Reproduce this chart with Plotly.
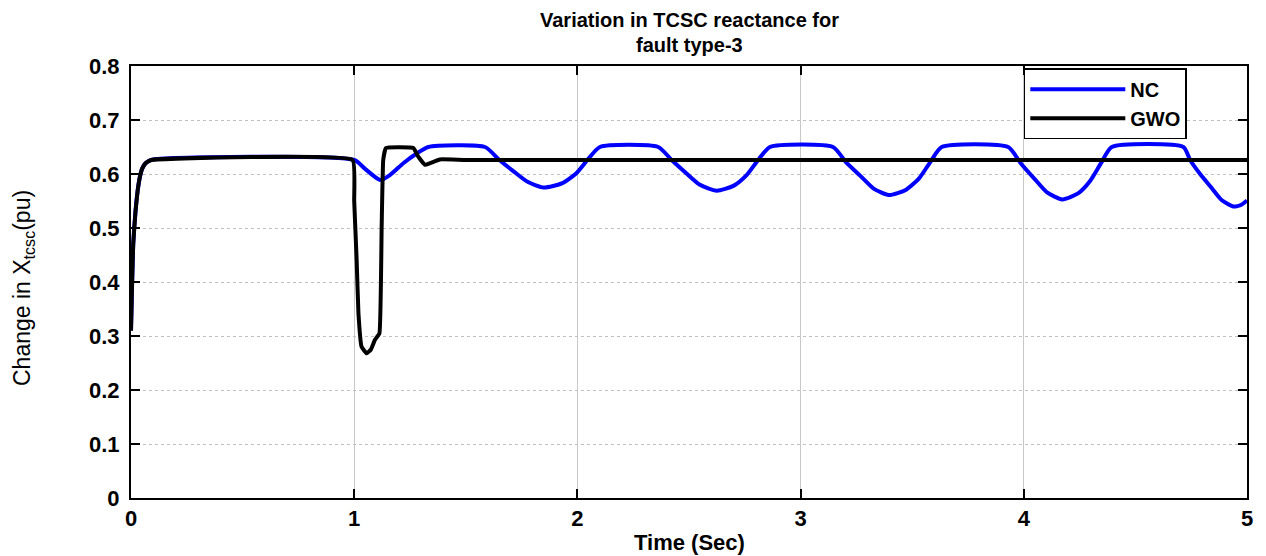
import plotly.graph_objects as go

# ---- data ----
gwo_t = [0.0, 0.005, 0.01, 0.02, 0.03, 0.04, 0.05, 0.065, 0.09, 0.993,
         1.0, 1.011, 1.019, 1.033, 1.056, 1.075, 1.093, 1.113, 1.123, 1.130,
         1.142, 1.265, 1.287, 1.317, 1.340, 1.384, 1.5, 5.0]
gwo_v = [0.31, 0.40, 0.47, 0.53, 0.57, 0.595, 0.61, 0.62, 0.626, 0.626,
         0.55, 0.44, 0.342, 0.28, 0.268, 0.275, 0.293, 0.305, 0.502, 0.626,
         0.648, 0.648, 0.632, 0.617, 0.620, 0.627, 0.626, 0.626]

nc_t = [0.0, 0.005, 0.01, 0.02, 0.03, 0.04, 0.05, 0.065, 0.09, 1.0,
        1.05, 1.116, 1.16, 1.22, 1.28, 1.332, 1.586,
        1.648, 1.717, 1.779, 1.849, 1.933, 1.994, 2.047, 2.101, 2.362,
        2.422, 2.489, 2.549, 2.624, 2.699, 2.758, 2.810, 2.863, 3.145,
        3.203, 3.269, 3.327, 3.395, 3.473, 3.531, 3.581, 3.632, 3.930,
        3.986, 4.048, 4.104, 4.173, 4.243, 4.297, 4.346, 4.394, 4.715,
        4.745, 4.790, 4.840, 4.886, 4.939, 4.975, 5.0]
nc_v = [0.31, 0.40, 0.47, 0.53, 0.57, 0.595, 0.61, 0.62, 0.626, 0.626,
        0.609, 0.589, 0.598, 0.620, 0.638, 0.650, 0.650,
        0.627, 0.604, 0.585, 0.575, 0.583, 0.601, 0.627, 0.650, 0.650,
        0.626, 0.601, 0.580, 0.569, 0.578, 0.598, 0.626, 0.650, 0.650,
        0.622, 0.596, 0.573, 0.561, 0.571, 0.592, 0.622, 0.650, 0.650,
        0.620, 0.591, 0.566, 0.553, 0.564, 0.587, 0.620, 0.650, 0.650,
        0.626, 0.600, 0.575, 0.552, 0.540, 0.543, 0.551]

x_ticks = [0, 1, 2, 3, 4, 5]
y_ticks = [0, 0.1, 0.2, 0.3, 0.4, 0.5, 0.6, 0.7, 0.8]
y_tick_labels = ["0", "0.1", "0.2", "0.3", "0.4", "0.5", "0.6", "0.7", "0.8"]

FONT = "Liberation Sans, Arial, Helvetica, sans-serif"

fig = go.Figure()
fig.add_trace(go.Scatter(x=nc_t, y=nc_v, mode="lines", name="NC",
                         line=dict(color="#0000ff", width=4, shape="spline", smoothing=0.6)))
fig.add_trace(go.Scatter(x=gwo_t, y=gwo_v, mode="lines", name="GWO",
                         line=dict(color="#000000", width=4, shape="spline", smoothing=0.3)))

axis_common = dict(showline=True, linecolor="black", linewidth=2, mirror="ticks",
                   ticks="inside", ticklen=9, tickwidth=2, tickcolor="black",
                   zeroline=False, showgrid=True, gridwidth=1,
                   tickfont=dict(family=FONT, size=22, color="black", weight="bold"))

fig.update_xaxes(range=[0, 5], tickvals=x_ticks, ticktext=[str(v) for v in x_ticks],
                 gridcolor="#c8c8c8", griddash="solid", ticklabelstandoff=0, **axis_common)
fig.update_yaxes(range=[0, 0.8], tickvals=y_ticks, ticktext=y_tick_labels,
                 gridcolor="#c0c0c0", griddash="dot", ticklabelstandoff=5, **axis_common)

# page body has an 8px margin; margins compensate so the plot frame lands at 131..1247 x 66..498
fig.update_layout(
    width=1266, height=556,
    margin=dict(l=123, r=27, t=58, b=66),
    paper_bgcolor="white", plot_bgcolor="white",
    legend=dict(x=0.8, y=0.995, xanchor="left", yanchor="top",
                bgcolor="white", bordercolor="black", borderwidth=1.5,
                font=dict(family=FONT, size=20, color="black", weight="bold"),
                itemwidth=95, tracegroupgap=0),
    showlegend=True,
)

fig.add_annotation(text="<b>Variation in TCSC reactance for</b>", xref="paper", yref="paper",
                   x=0.5, y=1.1065, xanchor="center", yanchor="middle", showarrow=False,
                   font=dict(family=FONT, size=20, color="black"))
fig.add_annotation(text="<b>fault type-3</b>", xref="paper", yref="paper",
                   x=0.5, y=1.0486, xanchor="center", yanchor="middle", showarrow=False,
                   font=dict(family=FONT, size=20, color="black"))
fig.add_annotation(text="Change in X<sub>tcsc</sub>(pu)", textangle=-90,
                   xref="paper", yref="paper", x=-0.0968, y=0.486,
                   xanchor="center", yanchor="middle", showarrow=False,
                   font=dict(family=FONT, size=23, color="black"))
fig.add_annotation(text="<b>Time (Sec)</b>", xref="paper", yref="paper",
                   x=0.5, y=-0.104, xanchor="center", yanchor="middle", showarrow=False,
                   font=dict(family=FONT, size=22, color="black"))

fig.write_html("out.html")
